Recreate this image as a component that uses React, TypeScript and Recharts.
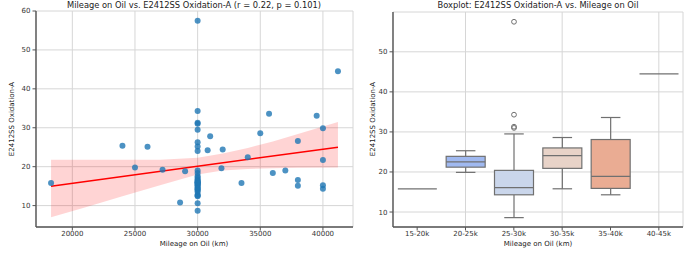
import React from 'react';
import {
  ComposedChart, Scatter, Line, Area, Bar, XAxis, YAxis, CartesianGrid,
} from 'recharts';

// scatter: mileage (km) vs oxidation
const mileage = [
  18300, 24000, 25000, 26000, 27200, 28600, 29000,
  30000, 30000, 30000, 30000, 30000, 30000, 30000, 30000, 30000, 30000, 30000,
  30000, 30000, 30000, 30000, 30000, 30000, 30000, 30000, 30000, 30000, 30000,
  30000, 30000, 30000, 30000, 30000, 30000, 30000, 30000, 30000, 30000,
  30800, 31000, 31900, 32000, 33500, 34000, 35000, 35700, 36000, 37000,
  38000, 38000, 38000, 39500, 40000, 40000, 40000, 40000, 41200,
];
const oxidation = [
  15.8, 25.4, 19.8, 25.1, 19.2, 10.8, 18.8,
  8.7, 10.6, 12.4, 12.6, 12.8, 13.5, 13.9, 14.2, 14.35, 14.6, 14.9,
  15.2, 15.4, 15.6, 15.8, 16.0, 16.0, 16.2, 16.5, 16.8, 17.2,
  17.6, 18.4, 19.0, 24.0, 25.2, 26.3, 29.5, 31.0, 31.3, 34.3, 57.5,
  24.2, 27.8, 19.6, 24.4, 15.8, 22.4, 28.6, 33.6, 18.4, 19.0,
  26.6, 16.6, 15.1, 33.1, 29.9, 21.7, 15.2, 14.3, 44.5,
];

// fitted line + confidence band
const regX = [18300, 41200];
const regY = [15.0, 25.0];
const bandX = [18300, 21000, 24000, 27000, 30000, 32000, 34000, 36000, 38000, 41200];
const bandLow = [7.0, 9.5, 12.4, 15.2, 18.0, 19.0, 19.4, 19.6, 19.7, 19.8];
const bandHigh = [21.8, 21.8, 21.8, 21.8, 22.3, 23.4, 24.8, 26.5, 28.4, 31.5];

const xTicks = [20000, 25000, 30000, 35000, 40000];
const yTicksLeft = [10, 20, 30, 40, 50, 60];

// box plot
const boxCats = ['15-20k', '20-25k', '25-30k', '30-35k', '35-40k', '40-45k'];
const boxLow = [15.8, 19.9, 8.6, 15.8, 14.3, 44.5];
const boxQ1 = [15.8, 21.2, 14.3, 20.9, 15.9, 44.5];
const boxMed = [15.8, 22.5, 16.1, 24.1, 18.9, 44.5];
const boxQ3 = [15.8, 23.9, 20.4, 26.0, 28.1, 44.5];
const boxHigh = [15.8, 25.3, 29.5, 28.6, 33.6, 44.5];
const boxColors = ['#7b96e6', '#a0b9f0', '#cad6eb', '#e8d3c8', '#eaac93', '#de7a65'];
const boxOutliers = [[], [], [31.0, 31.3, 34.3, 57.5], [], [], []];
const yTicksRight = [10, 20, 30, 40, 50];

const points = mileage.map((x, i) => ({ x, y: oxidation[i] }));
const regData = regX.map((x, i) => ({ x, y: regY[i] }));
const bandData = bandX.map((x, i) => ({ x, band: [bandLow[i], bandHigh[i]] }));
const boxRows = boxCats.map((cat, i) => ({
  cat, low: boxLow[i], q1: boxQ1[i], med: boxMed[i], q3: boxQ3[i], high: boxHigh[i],
  color: boxColors[i], fliers: boxOutliers[i],
}));

const FONT = '"DejaVu Sans", sans-serif';
const tickStyle = { fontSize: 7, fill: '#333', fontFamily: FONT };
const gridColor = '#d6d6d6';
const spine = { stroke: '#555', strokeWidth: 1.4 };
const spineLight = { stroke: '#aaa', strokeWidth: 1 };
const boxLine = '#707070';

function BoxShape(props: any) {
  const { x, y, width, height, payload } = props;
  const top = Math.min(y, y + height);
  const bottom = Math.max(y, y + height);
  const span = payload.high - payload.low;
  // map a value onto the bar's own pixel span (bar covers low..high)
  const py = (v: number) => (span > 0 ? bottom - ((v - payload.low) / span) * (bottom - top) : top);
  const cx = x + width / 2;
  const cap = width / 4;
  if (span === 0) {
    return <line x1={x} x2={x + width} y1={top} y2={top} stroke={boxLine} strokeWidth={1.2} />;
  }
  return (
    <g>
      <line x1={cx} x2={cx} y1={py(payload.high)} y2={py(payload.q3)} stroke={boxLine} strokeWidth={1.2} />
      <line x1={cx} x2={cx} y1={py(payload.q1)} y2={py(payload.low)} stroke={boxLine} strokeWidth={1.2} />
      <line x1={cx - cap} x2={cx + cap} y1={py(payload.high)} y2={py(payload.high)} stroke={boxLine} strokeWidth={1.2} />
      <line x1={cx - cap} x2={cx + cap} y1={py(payload.low)} y2={py(payload.low)} stroke={boxLine} strokeWidth={1.2} />
      <rect x={x} y={py(payload.q3)} width={width} height={py(payload.q1) - py(payload.q3)}
        fill={payload.color} stroke={boxLine} strokeWidth={1.2} />
      <line x1={x} x2={x + width} y1={py(payload.med)} y2={py(payload.med)} stroke={boxLine} strokeWidth={1.2} />
      {payload.fliers.map((v: number, i: number) => (
        <circle key={i} cx={cx} cy={py(v)} r={2.4} fill="none" stroke={boxLine} strokeWidth={1} />
      ))}
    </g>
  );
}

const textBase: React.CSSProperties = {
  position: 'absolute', fontFamily: FONT, color: '#222', whiteSpace: 'nowrap', lineHeight: 1,
};

export default function App() {
  return (
    <div style={{ position: 'absolute', left: 0, top: 0, width: 685, height: 259, background: '#fff', overflow: 'hidden' }}>
      <div style={{ position: 'absolute', left: 0, top: 0 }}>
        <ComposedChart width={360} height={259} margin={{ top: 11, right: 7, bottom: 0, left: 0 }}>
          <CartesianGrid stroke={gridColor} strokeWidth={1} />
          <XAxis dataKey="x" type="number" domain={[17100, 42400]} ticks={xTicks} allowDataOverflow
            tick={tickStyle} tickSize={3.5} tickMargin={1} height={32} axisLine={spine} tickLine={{ stroke: '#555' }} />
          <XAxis xAxisId="top" orientation="top" type="number" domain={[17100, 42400]} height={0}
            tick={false} tickLine={false} axisLine={spineLight} />
          <YAxis type="number" domain={[4.5, 60]} ticks={yTicksLeft} allowDataOverflow width={36}
            tick={tickStyle} tickSize={3.5} tickMargin={2} axisLine={spine} tickLine={{ stroke: '#555' }} />
          <YAxis yAxisId="right" orientation="right" type="number" domain={[4.5, 60]} width={0}
            tick={false} tickLine={false} axisLine={spineLight} />
          <Scatter data={points} dataKey="y" isAnimationActive={false}
            shape={(p: any) => <circle cx={p.cx} cy={p.cy} r={3} fill="#1f77b4" fillOpacity={0.8} />} />
          <Area data={bandData} dataKey="band" type="linear" stroke="none" fill="#ff0000" fillOpacity={0.17}
            isAnimationActive={false} dot={false} activeDot={false} />
          <Line data={regData} dataKey="y" type="linear" stroke="#ff0000" strokeWidth={1.5} dot={false}
            activeDot={false} isAnimationActive={false} />
        </ComposedChart>
      </div>
      <div style={{ ...textBase, left: 194, top: 1, fontSize: 8.3, transform: 'translateX(-50%)' }}>
        Mileage on Oil vs. E2412SS Oxidation-A (r = 0.22, p = 0.101)
      </div>
      <div style={{ ...textBase, left: 194, top: 241, fontSize: 7, transform: 'translateX(-50%)' }}>
        Mileage on Oil (km)
      </div>
      <div style={{ ...textBase, left: 12, top: 119, fontSize: 7, transform: 'translate(-50%, -50%) rotate(-90deg)' }}>
        E2412SS Oxidation-A
      </div>

      <div style={{ position: 'absolute', left: 360, top: 0 }}>
        <ComposedChart width={325} height={259} data={boxRows} barCategoryGap="10%"
          margin={{ top: 12, right: 2, bottom: 0, left: 0 }}>
          <CartesianGrid stroke={gridColor} strokeWidth={1} />
          <XAxis dataKey="cat" type="category" tick={tickStyle} tickSize={3.5} tickMargin={1} height={32}
            axisLine={spine} tickLine={{ stroke: '#555' }} />
          <XAxis xAxisId="top" orientation="top" dataKey="cat" height={0} tick={false} tickLine={false} axisLine={spineLight} />
          <YAxis type="number" domain={[6.26, 59.94]} ticks={yTicksRight} allowDataOverflow width={33}
            tick={tickStyle} tickSize={3.5} tickMargin={2} axisLine={spine} tickLine={{ stroke: '#555' }} />
          <YAxis yAxisId="right" orientation="right" type="number" domain={[6.26, 59.94]} width={0}
            tick={false} tickLine={false} axisLine={spineLight} />
          <Bar dataKey={(d: any) => [d.low, d.high]} shape={BoxShape} isAnimationActive={false} />
        </ComposedChart>
      </div>
      <div style={{ ...textBase, left: 538, top: 1, fontSize: 8.3, transform: 'translateX(-50%)' }}>
        Boxplot: E2412SS Oxidation-A vs. Mileage on Oil
      </div>
      <div style={{ ...textBase, left: 538, top: 241, fontSize: 7, transform: 'translateX(-50%)' }}>
        Mileage on Oil (km)
      </div>
      <div style={{ ...textBase, left: 373, top: 119, fontSize: 7, transform: 'translate(-50%, -50%) rotate(-90deg)' }}>
        E2412SS Oxidation-A
      </div>
    </div>
  );
}
